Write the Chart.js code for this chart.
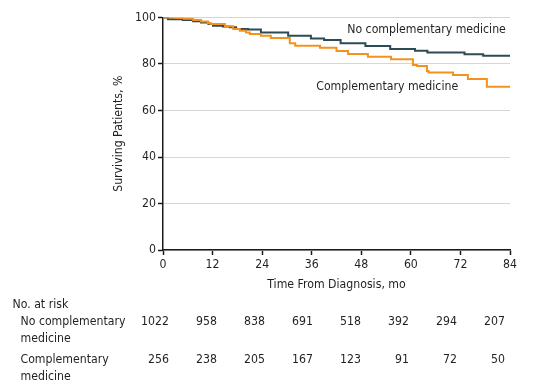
<!DOCTYPE html>
<html>
<head>
<meta charset="utf-8">
<script src="https://cdn.jsdelivr.net/npm/chart.js@4"></script>
<style>
  html, body { margin: 0; padding: 0; background: #fff; }
  #wrap { width: 538px; height: 389px; }
</style>
</head>
<body>
<div id="wrap"><canvas id="myChart" width="538" height="389"></canvas></div>
<script>
// Kaplan-Meier step points (months, % surviving)
const no_cm_months = [0, 1.2, 4.8, 7.3, 9.2, 11, 12.1, 14.5, 16.2, 17.7, 20.6, 23.7, 30.3, 35.8, 39, 43, 49, 55, 61, 64, 73, 77.5, 84]
const no_cm_surv   = [100, 99.2, 98.9, 98.4, 97.8, 97.2, 96.5, 96.1, 95.8, 95.1, 94.8, 93.6, 92.2, 91.0, 90.3, 88.9, 87.7, 86.5, 85.7, 85.0, 84.2, 83.6, 83.6]

const cm_months = [0, 3, 5, 7.3, 9.2, 10.9, 11.6, 15, 17, 18.6, 20.1, 21, 23.7, 26.1, 30.7, 32, 38, 42, 44.8, 49.6, 55.2, 60.5, 61.5, 63.9, 64.3, 70.2, 73.8, 78.4, 84]
const cm_surv   = [100, 99.8, 99.5, 98.9, 98.3, 97.5, 97.2, 96.2, 95.1, 94.3, 93.6, 92.9, 92.2, 91.2, 88.9, 87.9, 87.0, 85.6, 84.3, 83.1, 82.0, 79.6, 79.1, 77.0, 76.3, 75.3, 73.5, 70.2, 70.2]

const risk_months = [0, 12, 24, 36, 48, 60, 72, 84]
const risk_no_cm  = [1022, 958, 838, 691, 518, 392, 294, 207]
const risk_cm     = [256, 238, 205, 167, 123, 91, 72, 50]

const series_names = ['No complementary medicine', 'Complementary medicine']

const font_family = '"DejaVu Sans Condensed", "DejaVu Sans", sans-serif'
const text_color = '#231f20'
const dark_color = '#2b4b55'
const orange_color = '#f5921e'

const toPoints = (xs, ys) => xs.map((x, i) => ({x: x, y: ys[i]}))

const labelsPlugin = {
  id: 'labelsPlugin',
  afterDraw(chart) {
    const ctx = chart.ctx
    const xs = chart.scales.x
    const ys = chart.scales.y
    ctx.save()
    ctx.font = '12.2px ' + font_family
    ctx.fillStyle = text_color
    ctx.textBaseline = 'middle'

    // curve labels
    ctx.textAlign = 'right'
    ctx.fillText(series_names[0], xs.getPixelForValue(83), ys.getPixelForValue(94.6))
    ctx.textAlign = 'left'
    ctx.fillText(series_names[1], xs.getPixelForValue(37.1), ys.getPixelForValue(70.1))

    // number at risk table
    ctx.textAlign = 'left'
    ctx.fillText('No. at risk', 12.5, 305)
    ctx.fillText('No complementary', 20.5, 322)
    ctx.fillText('medicine', 20.5, 339)
    ctx.fillText('Complementary', 20.5, 360)
    ctx.fillText('medicine', 20.5, 377)
    ctx.textAlign = 'right'
    for (let i = 0; i < risk_months.length; i++) {
      let x = xs.getPixelForValue(risk_months[i] * 0.968) + 6
      ctx.fillText(String(risk_no_cm[i]), x, 322)
      ctx.fillText(String(risk_cm[i]), x, 360)
    }
    ctx.restore()
  }
}

const data = {
  datasets: [
    {
      label: series_names[1],
      data: toPoints(cm_months, cm_surv),
      borderColor: orange_color,
      backgroundColor: orange_color,
      borderWidth: 2,
      pointRadius: 0,
      stepped: true,
      fill: false
    },
    {
      label: series_names[0],
      data: toPoints(no_cm_months, no_cm_surv),
      borderColor: dark_color,
      backgroundColor: dark_color,
      borderWidth: 2,
      pointRadius: 0,
      stepped: true,
      fill: false
    }
  ]
}

const config = {
  type: 'line',
  data: data,
  options: {
    responsive: false,
    animation: false,
    events: [],
    layout: { padding: { left: 0, right: 28, top: 17.5, bottom: 94 } },
    plugins: {
      legend: { display: false },
      tooltip: { enabled: false }
    },
    scales: {
      x: {
        type: 'linear',
        min: 0,
        max: 84,
        afterFit: (scale) => { scale.height = 45 },
        border: { display: true, color: '#1a1a1a', width: 1.5 },
        grid: { drawOnChartArea: false, tickLength: 5, tickColor: '#1a1a1a', tickWidth: 1.5 },
        ticks: {
          stepSize: 12,
          padding: 3,
          maxRotation: 0,
          color: text_color,
          font: { family: font_family, size: 12.2 }
        },
        title: {
          display: true,
          text: 'Time From Diagnosis, mo',
          color: text_color,
          font: { family: font_family, size: 12.2 },
          padding: { top: 0, bottom: 3 }
        }
      },
      y: {
        min: 0,
        max: 100,
        afterFit: (scale) => { scale.width = 163 },
        border: { display: true, color: '#1a1a1a', width: 1.5 },
        grid: { color: '#d6d6d6', lineWidth: 1, tickLength: 5, tickColor: '#1a1a1a', tickWidth: 1.5 },
        ticks: {
          stepSize: 20,
          padding: 2,
          color: text_color,
          font: { family: font_family, size: 12.2 }
        },
        title: {
          display: true,
          text: 'Surviving Patients, %',
          color: text_color,
          font: { family: font_family, size: 12.2 },
          padding: { top: 112, bottom: 0 }
        }
      }
    }
  },
  plugins: [labelsPlugin]
}

const myChart = new Chart(document.getElementById('myChart'), config)
</script>
</body>
</html>
